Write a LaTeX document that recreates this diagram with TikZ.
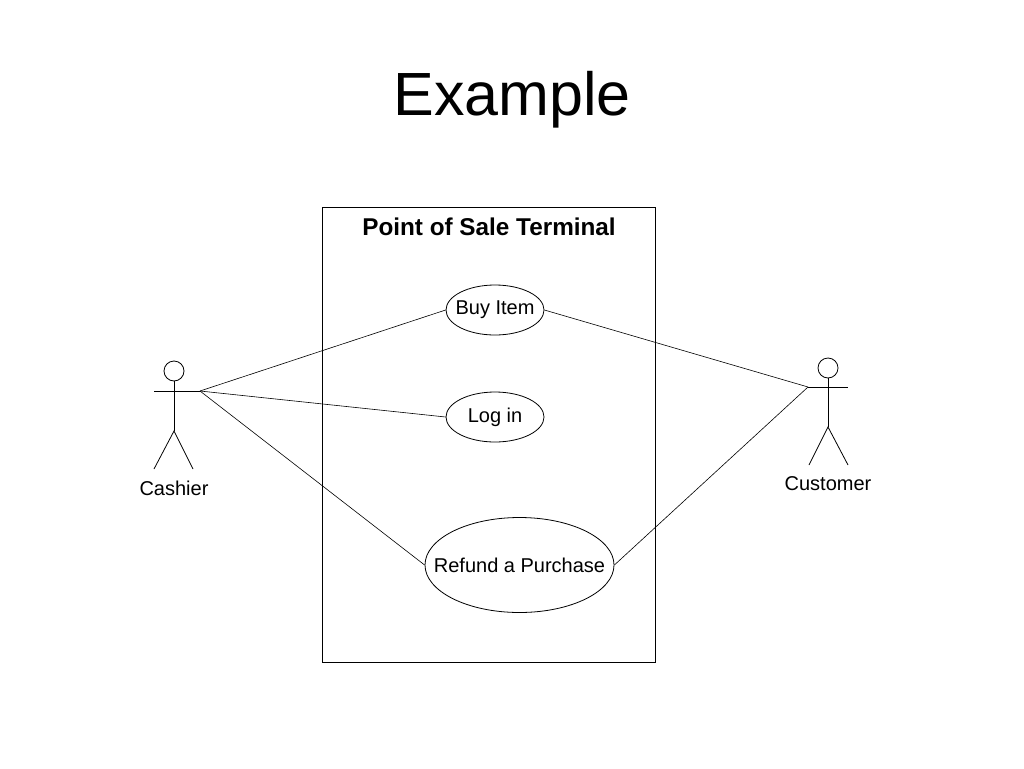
\documentclass[tikz,border=0pt]{standalone}
\usepackage{fontspec}
\setmainfont{Liberation Sans}
\usetikzlibrary{shapes.geometric}
\begin{document}
\begin{tikzpicture}[x=1pt,y=-1pt,line width=0.8pt,
  usecase/.style={ellipse,draw,inner sep=0pt},
  lbl/.style={inner sep=0pt,font=\fontsize{20}{24}\selectfont},
  head/.style={circle,draw,inner sep=0pt,minimum size=20pt}]
\useasboundingbox[fill=white] (0,0) rectangle (1024,768);
% title
\node[inner sep=0pt,font=\fontsize{61}{70}\selectfont] (title) at (512,100) {Example};
% system boundary
\node[draw,minimum width=333pt,minimum height=455pt,inner sep=0pt] (sys) at (488.5,434.5) {};
\node[inner sep=0pt,font=\bfseries\fontsize{24.3}{28}\selectfont] (systitle) at (489,227) {Point of Sale Terminal};
% use cases
\node[usecase,minimum width=98pt,minimum height=50pt,label={[lbl]center:Buy Item}] (buy) at (495,310) {};
\node[usecase,minimum width=98pt,minimum height=50pt,label={[lbl]center:Log in}] (login) at (495,417) {};
\node[usecase,minimum width=189pt,minimum height=95pt,label={[lbl]center:Refund a Purchase}] (refund) at (519.5,565) {};
% cashier actor
\node[head] (chead) at (174,371) {};
\coordinate (chip) at (174,431);
\coordinate (carmL) at (154,391);
\coordinate (carmR) at (200,391);
\coordinate (clegL) at (154,469);
\coordinate (clegR) at (193,469);
\draw (chead.south) -- (chip);
\draw (carmL) -- (carmR);
\draw (clegL) -- (chip) -- (clegR);
\node[lbl] (cashier) at (174,488) {Cashier};
% customer actor
\node[head] (uhead) at (828,368) {};
\coordinate (uhip) at (828,427);
\coordinate (uarmL) at (808,387);
\coordinate (uarmR) at (848,387);
\coordinate (ulegL) at (809,465);
\coordinate (ulegR) at (848,465);
\draw (uhead.south) -- (uhip);
\draw (uarmL) -- (uarmR);
\draw (ulegL) -- (uhip) -- (ulegR);
\node[lbl] (customer) at (828,484) {Customer};
% associations
\draw[line width=0.6pt] (carmR) -- (buy.west);
\draw[line width=0.6pt] (carmR) -- (login.west);
\draw[line width=0.6pt] (carmR) -- (refund.west);
\draw[line width=0.6pt] (uarmL) -- (buy.east);
\draw[line width=0.6pt] (uarmL) -- (refund.east);
\end{tikzpicture}
\end{document}
